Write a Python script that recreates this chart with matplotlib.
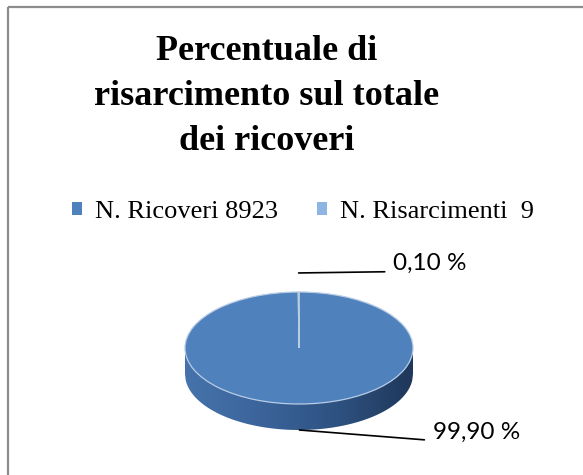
import numpy as np
import matplotlib
matplotlib.use("Agg")
import matplotlib.pyplot as plt
from matplotlib.patches import Polygon
from matplotlib.colors import LinearSegmentedColormap

# data
labels = ["N. Ricoveri 8923", "N. Risarcimenti  9"]
values = [8923, 9]
pct_labels = ["99,90 %", "0,10 %"]
title = "Percentuale di\nrisarcimento sul totale\ndei ricoveri"

top_colors = ["#4F81BD", "#8EB4E3"]
edge_col = "#B9CDE5"
serif = ["Liberation Serif", "DejaVu Serif"]
sans = ["Lato", "DejaVu Sans"]

W, H = 583, 475
fig = plt.figure(figsize=(W / 100, H / 100), dpi=100)

# background axes in pixel coords for the chart frame
bg = fig.add_axes([0, 0, 1, 1])
bg.set_xlim(0, W)
bg.set_ylim(H, 0)
bg.axis("off")
bg.plot([8, W], [7, 7], color="#8C8C8C", lw=1.6, solid_capstyle="butt")
bg.plot([8, 8], [7, H], color="#8C8C8C", lw=1.6, solid_capstyle="butt")

fig.text(267 / W, 1 - 35 / H, title, ha="center", va="top", family=serif,
         fontweight="bold", fontsize=26, linespacing=1.47)

# pie axes: unit circle squashed into an ellipse, extra room below for the side
D = 26 / 56  # depth of the side in data units
ax = fig.add_axes([185 / W, (H - 430) / H, 228 / W, 138 / H])
wedges, _ = ax.pie(values, colors=top_colors, startangle=90, counterclock=False,
                   wedgeprops=dict(edgecolor=edge_col, linewidth=0.9))
for w in wedges:
    w.set_zorder(3)
ax.set_aspect("auto")
ax.axis("off")

# cylinder side with a left->right gradient
xs = np.linspace(-1, 1, 300)
lower = -D - np.sqrt(1 - xs ** 2)
verts = [(-1, 0)] + list(zip(xs, lower)) + [(1, 0)]
side = Polygon(verts, closed=True, facecolor="none", edgecolor="none")
ax.add_patch(side)
cmap = LinearSegmentedColormap.from_list(
    "side", ["#4673AB", "#3B649B", "#2E5281", "#1F375A"])
grad = np.linspace(0, 1, 256).reshape(1, -1)
im = ax.imshow(grad, cmap=cmap, extent=(-1, 1, -1 - D, 0), aspect="auto",
               zorder=2, interpolation="bilinear")
im.set_clip_path(side)
ax.set_xlim(-1, 1)
ax.set_ylim(-1 - D, 1)

# percentage labels with leader lines
offsets = {0: (96, -1.5), 1: (68, 7)}
for i, w in enumerate(wedges):
    mid = np.deg2rad((w.theta1 + w.theta2) / 2)
    x, y = np.cos(mid), np.sin(mid)
    y = y + 0.34 if y > 0 else y - D
    ax.annotate(pct_labels[i], xy=(x, y), xytext=offsets[i],
                textcoords="offset points", ha="left", va="center",
                family=sans, fontsize=17.5, annotation_clip=False,
                arrowprops=dict(arrowstyle="-", color="black", lw=1.2,
                                shrinkA=4, shrinkB=0, relpos=(0, 0.1)))

leg = fig.legend(wedges, labels, loc="center", bbox_to_anchor=(303 / W, 1 - 212 / H),
                 ncol=2, frameon=False, prop=dict(family=serif, size=19),
                 handlelength=0.4, handleheight=0.4, handletextpad=0.5,
                 columnspacing=1.45)
for h in leg.legend_handles:
    h.set_edgecolor("none")

fig.savefig("out.png", dpi=100)
